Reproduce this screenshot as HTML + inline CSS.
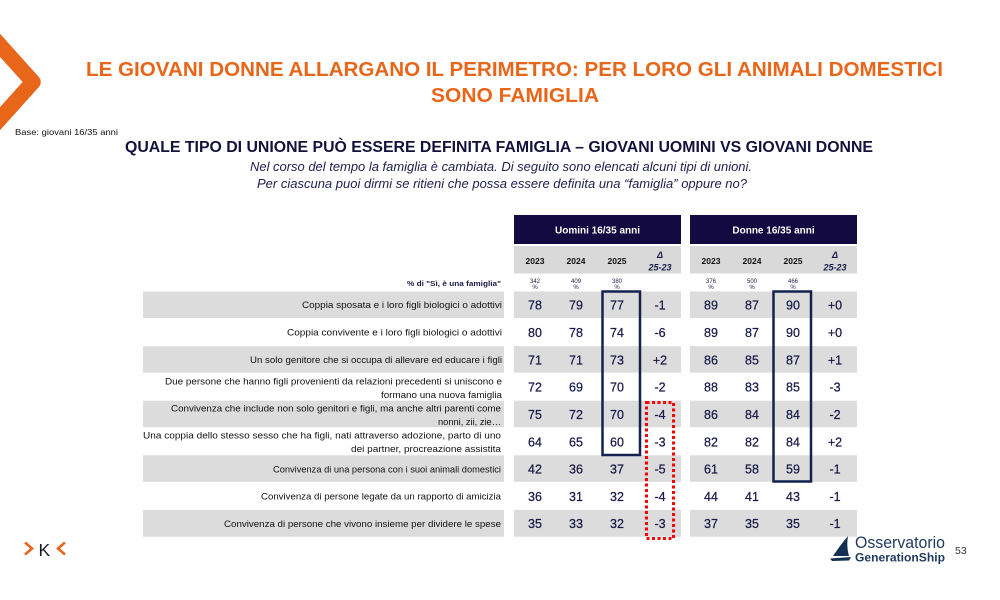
<!DOCTYPE html>
<html>
<head>
<meta charset="utf-8">
<style>
html,body{margin:0;padding:0;background:#fff;}
svg{display:block;}
text{font-family:"Liberation Sans",sans-serif;}
</style>
</head>
<body>
<svg width="1000" height="600" viewBox="0 0 1000 600" xmlns="http://www.w3.org/2000/svg">
<rect width="1000" height="600" fill="#fff"/>

<!-- top-left chevron -->
<polyline points="-12,32 33,82 -12,132" fill="none" stroke="#E8661A" stroke-width="15.5" stroke-linejoin="round"/>

<!-- Title -->
<text x="86" y="76" font-size="20" font-weight="bold" fill="#E8661A" textLength="857" lengthAdjust="spacingAndGlyphs">LE GIOVANI DONNE ALLARGANO IL PERIMETRO: PER LORO GLI ANIMALI DOMESTICI</text>
<text x="431" y="102" font-size="20" font-weight="bold" fill="#E8661A" textLength="168" lengthAdjust="spacingAndGlyphs">SONO FAMIGLIA</text>

<text x="15" y="135" font-size="8.5" fill="#111" textLength="103" lengthAdjust="spacingAndGlyphs">Base: giovani 16/35 anni</text>

<text x="125" y="152" font-size="15.5" font-weight="bold" fill="#14123d" textLength="748" lengthAdjust="spacingAndGlyphs">QUALE TIPO DI UNIONE PUÒ ESSERE DEFINITA FAMIGLIA – GIOVANI UOMINI VS GIOVANI DONNE</text>
<text x="250" y="171" font-size="12.5" font-style="italic" fill="#1e1e50" textLength="502" lengthAdjust="spacingAndGlyphs">Nel corso del tempo la famiglia è cambiata. Di seguito sono elencati alcuni tipi di unioni.</text>
<text x="257" y="188" font-size="12.5" font-style="italic" fill="#1e1e50" textLength="490" lengthAdjust="spacingAndGlyphs">Per ciascuna puoi dirmi se ritieni che possa essere definita una “famiglia” oppure no?</text>

<!-- Header bands -->
<rect x="514" y="215" width="167" height="29" fill="#120a40"/>
<rect x="690" y="215" width="167" height="29" fill="#120a40"/>
<text x="597.5" y="233.5" font-size="10" font-weight="bold" fill="#fff" text-anchor="middle">Uomini 16/35 anni</text>
<text x="773.5" y="233.5" font-size="10" font-weight="bold" fill="#fff" text-anchor="middle">Donne 16/35 anni</text>

<rect x="514" y="246" width="167" height="27.5" fill="#d9d9d9"/>
<rect x="690" y="246" width="167" height="27.5" fill="#d9d9d9"/>
<g font-size="8.5" font-weight="bold" fill="#111" text-anchor="middle">
<text x="535" y="264">2023</text><text x="576" y="264">2024</text><text x="617" y="264">2025</text>
<text x="711" y="264">2023</text><text x="752" y="264">2024</text><text x="793" y="264">2025</text>
</g>
<g font-size="9" font-style="italic" font-weight="bold" fill="#1a1a4a" text-anchor="middle">
<text x="660" y="258">Δ</text><text x="660" y="270.5">25-23</text>
<text x="835" y="258">Δ</text><text x="835" y="270.5">25-23</text>
</g>

<!-- sample sizes -->
<g font-size="6" fill="#1a1a4a" text-anchor="middle">
<text x="535" y="283">342</text><text x="535" y="289">%</text>
<text x="576" y="283">409</text><text x="576" y="289">%</text>
<text x="617" y="283">380</text><text x="617" y="289">%</text>
<text x="711" y="283">376</text><text x="711" y="289">%</text>
<text x="752" y="283">500</text><text x="752" y="289">%</text>
<text x="793" y="283">466</text><text x="793" y="289">%</text>
</g>
<text x="407" y="286" font-size="7" font-weight="bold" fill="#1a1a4a" textLength="94" lengthAdjust="spacingAndGlyphs">% di "Sì, è una famiglia"</text>

<!-- gray rows -->
<g fill="#dcdcdc">
<rect x="143" y="291.5" width="361" height="26.5"/><rect x="514" y="291.5" width="167" height="26.5"/><rect x="690" y="291.5" width="167" height="26.5"/>
<rect x="143" y="346.1" width="361" height="26.5"/><rect x="514" y="346.1" width="167" height="26.5"/><rect x="690" y="346.1" width="167" height="26.5"/>
<rect x="143" y="400.7" width="361" height="26.5"/><rect x="514" y="400.7" width="167" height="26.5"/><rect x="690" y="400.7" width="167" height="26.5"/>
<rect x="143" y="455.3" width="361" height="26.5"/><rect x="514" y="455.3" width="167" height="26.5"/><rect x="690" y="455.3" width="167" height="26.5"/>
<rect x="143" y="509.9" width="361" height="26.8"/><rect x="514" y="509.9" width="167" height="26.8"/><rect x="690" y="509.9" width="167" height="26.8"/>
</g>

<!-- row labels -->
<g font-size="9" fill="#111">
<text x="302" y="308" textLength="200" lengthAdjust="spacingAndGlyphs">Coppia sposata e i loro figli biologici o adottivi</text>
<text x="287" y="335.5" textLength="215" lengthAdjust="spacingAndGlyphs">Coppia convivente e i loro figli biologici o adottivi</text>
<text x="250" y="363" textLength="252" lengthAdjust="spacingAndGlyphs">Un solo genitore che si occupa di allevare ed educare i figli</text>
<text x="165" y="384.5" textLength="337" lengthAdjust="spacingAndGlyphs">Due persone che hanno figli provenienti da relazioni precedenti si uniscono e</text>
<text x="381" y="398" textLength="121" lengthAdjust="spacingAndGlyphs">formano una nuova famiglia</text>
<text x="171" y="411.5" textLength="330" lengthAdjust="spacingAndGlyphs">Convivenza che include non solo genitori e figli, ma anche altri parenti come</text>
<text x="438" y="425" textLength="63" lengthAdjust="spacingAndGlyphs">nonni, zii, zie…</text>
<text x="143" y="438.5" textLength="358" lengthAdjust="spacingAndGlyphs">Una coppia dello stesso sesso che ha figli, nati attraverso adozione, parto di uno</text>
<text x="351" y="452" textLength="150" lengthAdjust="spacingAndGlyphs">dei partner, procreazione assistita</text>
<text x="273" y="472.5" textLength="228" lengthAdjust="spacingAndGlyphs">Convivenza di una persona con i suoi animali domestici</text>
<text x="261" y="499.5" textLength="240" lengthAdjust="spacingAndGlyphs">Convivenza di persone legate da un rapporto di amicizia</text>
<text x="224" y="527" textLength="277" lengthAdjust="spacingAndGlyphs">Convivenza di persone che vivono insieme per dividere le spese</text>
</g>

<!-- numbers -->
<g font-size="12.5" fill="#1a1a4a" stroke="#1a1a4a" stroke-width="0.25" text-anchor="middle">
<text x="535" y="309.5">78</text><text x="576" y="309.5">79</text><text x="617" y="309.5">77</text><text x="660" y="309.5">-1</text>
<text x="711" y="309.5">89</text><text x="752" y="309.5">87</text><text x="793" y="309.5">90</text><text x="835" y="309.5">+0</text>

<text x="535" y="337">80</text><text x="576" y="337">78</text><text x="617" y="337">74</text><text x="660" y="337">-6</text>
<text x="711" y="337">89</text><text x="752" y="337">87</text><text x="793" y="337">90</text><text x="835" y="337">+0</text>

<text x="535" y="364.5">71</text><text x="576" y="364.5">71</text><text x="617" y="364.5">73</text><text x="660" y="364.5">+2</text>
<text x="711" y="364.5">86</text><text x="752" y="364.5">85</text><text x="793" y="364.5">87</text><text x="835" y="364.5">+1</text>

<text x="535" y="391.5">72</text><text x="576" y="391.5">69</text><text x="617" y="391.5">70</text><text x="660" y="391.5">-2</text>
<text x="711" y="391.5">88</text><text x="752" y="391.5">83</text><text x="793" y="391.5">85</text><text x="835" y="391.5">-3</text>

<text x="535" y="419">75</text><text x="576" y="419">72</text><text x="617" y="419">70</text><text x="660" y="419">-4</text>
<text x="711" y="419">86</text><text x="752" y="419">84</text><text x="793" y="419">84</text><text x="835" y="419">-2</text>

<text x="535" y="446.5">64</text><text x="576" y="446.5">65</text><text x="617" y="446.5">60</text><text x="660" y="446.5">-3</text>
<text x="711" y="446.5">82</text><text x="752" y="446.5">82</text><text x="793" y="446.5">84</text><text x="835" y="446.5">+2</text>

<text x="535" y="473.5">42</text><text x="576" y="473.5">36</text><text x="617" y="473.5">37</text><text x="660" y="473.5">-5</text>
<text x="711" y="473.5">61</text><text x="752" y="473.5">58</text><text x="793" y="473.5">59</text><text x="835" y="473.5">-1</text>

<text x="535" y="501">36</text><text x="576" y="501">31</text><text x="617" y="501">32</text><text x="660" y="501">-4</text>
<text x="711" y="501">44</text><text x="752" y="501">41</text><text x="793" y="501">43</text><text x="835" y="501">-1</text>

<text x="535" y="528">35</text><text x="576" y="528">33</text><text x="617" y="528">32</text><text x="660" y="528">-3</text>
<text x="711" y="528">37</text><text x="752" y="528">35</text><text x="793" y="528">35</text><text x="835" y="528">-1</text>
</g>

<!-- highlight boxes -->
<rect x="602.5" y="291.5" width="37.5" height="163.5" fill="none" stroke="#14224f" stroke-width="2.5"/>
<rect x="773.5" y="291.5" width="37.5" height="190" fill="none" stroke="#14224f" stroke-width="2.5"/>
<rect x="646.5" y="402.5" width="27" height="136" fill="none" stroke="#ff0000" stroke-width="3" stroke-dasharray="3 2.5"/>

<!-- bottom-left logo -->
<polyline points="25,542.5 32,548.5 25,554.5" fill="none" stroke="#E8661A" stroke-width="2.6" stroke-linejoin="miter"/>
<text x="38.5" y="556" font-size="17.5" fill="#1a1a1a">K</text>
<polyline points="65,542.5 58,548.5 65,554.5" fill="none" stroke="#E8661A" stroke-width="2.6" stroke-linejoin="miter"/>

<!-- bottom-right logo -->
<path d="M848,536 C842,543 837,550 833,556 L849,556 C847,549 847,542 848,536 Z" fill="#14304f"/>
<path d="M830,558.5 L851,557 L849,560.5 L832,561 Z" fill="#14304f"/>
<text x="855" y="548" font-size="16.5" fill="#1e3a5f" textLength="90" lengthAdjust="spacingAndGlyphs">Osservatorio</text>
<text x="855" y="561.5" font-size="12" font-weight="bold" fill="#1e3a5f" textLength="90" lengthAdjust="spacingAndGlyphs">GenerationShip</text>
<text x="955" y="554" font-size="10.5" fill="#333">53</text>
</svg>
</body>
</html>
